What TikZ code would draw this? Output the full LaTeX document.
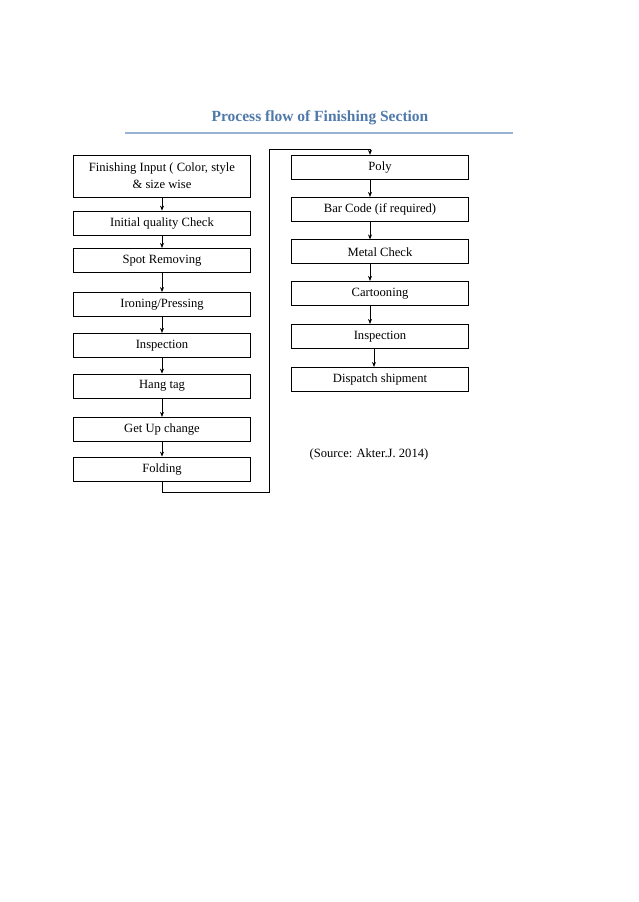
\documentclass[tikz,border=0pt]{standalone}
\usepackage{fontspec}
\setmainfont{Liberation Serif}
\usetikzlibrary{arrows.meta}
\definecolor{titleblue}{RGB}{79,121,170}
\definecolor{ruleblue}{RGB}{150,181,214}
\begin{document}
\begin{tikzpicture}[x=1pt,y=-1pt,
  block/.style={rectangle, draw, line width=0.8pt, minimum width=177pt, minimum height=24pt, inner sep=1pt, align=center},
  flow/.style={-{Stealth[length=5pt,width=4pt]}, line width=0.7pt},
  font=\fontsize{12.6}{16.7}\selectfont
]
\useasboundingbox (0,0) rectangle (638,902);

\node[font=\bfseries\fontsize{15.5}{18}\selectfont, text=titleblue] (title) at (320,118) {Process flow of Finishing Section};
\draw[ruleblue, line width=1.5pt] (125,133) -- (513,133);

\node[block, minimum height=42pt] (input) at (162,176) {Finishing Input ( Color, style\\\& size wise};
\node[block] (initial) at (162,223) {Initial quality Check};
\node[block] (spot) at (162,260.3) {Spot Removing};
\node[block] (iron) at (162,304.5) {Ironing/Pressing};
\node[block] (insp1) at (162,345.3) {Inspection};
\node[block] (hang) at (162,386) {Hang tag};
\node[block] (getup) at (162,429.3) {Get Up change};
\node[block] (fold) at (162,469) {Folding};

\node[block] (poly) at (380,167.2) {Poly};
\node[block] (bar) at (380,209.3) {Bar Code (if required)};
\node[block] (metal) at (380,251.8) {Metal Check};
\node[block] (carton) at (380,293.3) {Cartooning};
\node[block] (insp2) at (380,336.3) {Inspection};
\node[block] (dispatch) at (380,379.3) {Dispatch shipment};

\node (source) at (369,454) {(Source: Akter.J. 2014)};

\draw[flow] (input) -- (initial);
\draw[flow] (initial) -- (spot);
\draw[flow] (spot) -- (iron);
\draw[flow] (iron) -- (insp1);
\draw[flow] (insp1) -- (hang);
\draw[flow] (hang) -- (getup);
\draw[flow] (getup) -- (fold);

\coordinate (low) at (269,492);
\coordinate (high) at (269,149);
\draw[flow] (fold.south) |- (low) -- (high) -| ([xshift=-10pt]poly.north);

\draw[flow] ([xshift=-10pt]poly.south) -- ([xshift=-10pt]bar.north);
\draw[flow] ([xshift=-10pt]bar.south) -- ([xshift=-10pt]metal.north);
\draw[flow] ([xshift=-10pt]metal.south) -- ([xshift=-10pt]carton.north);
\draw[flow] ([xshift=-10pt]carton.south) -- ([xshift=-10pt]insp2.north);
\draw[flow] ([xshift=-6pt]insp2.south) -- ([xshift=-6pt]dispatch.north);
\end{tikzpicture}
\end{document}
